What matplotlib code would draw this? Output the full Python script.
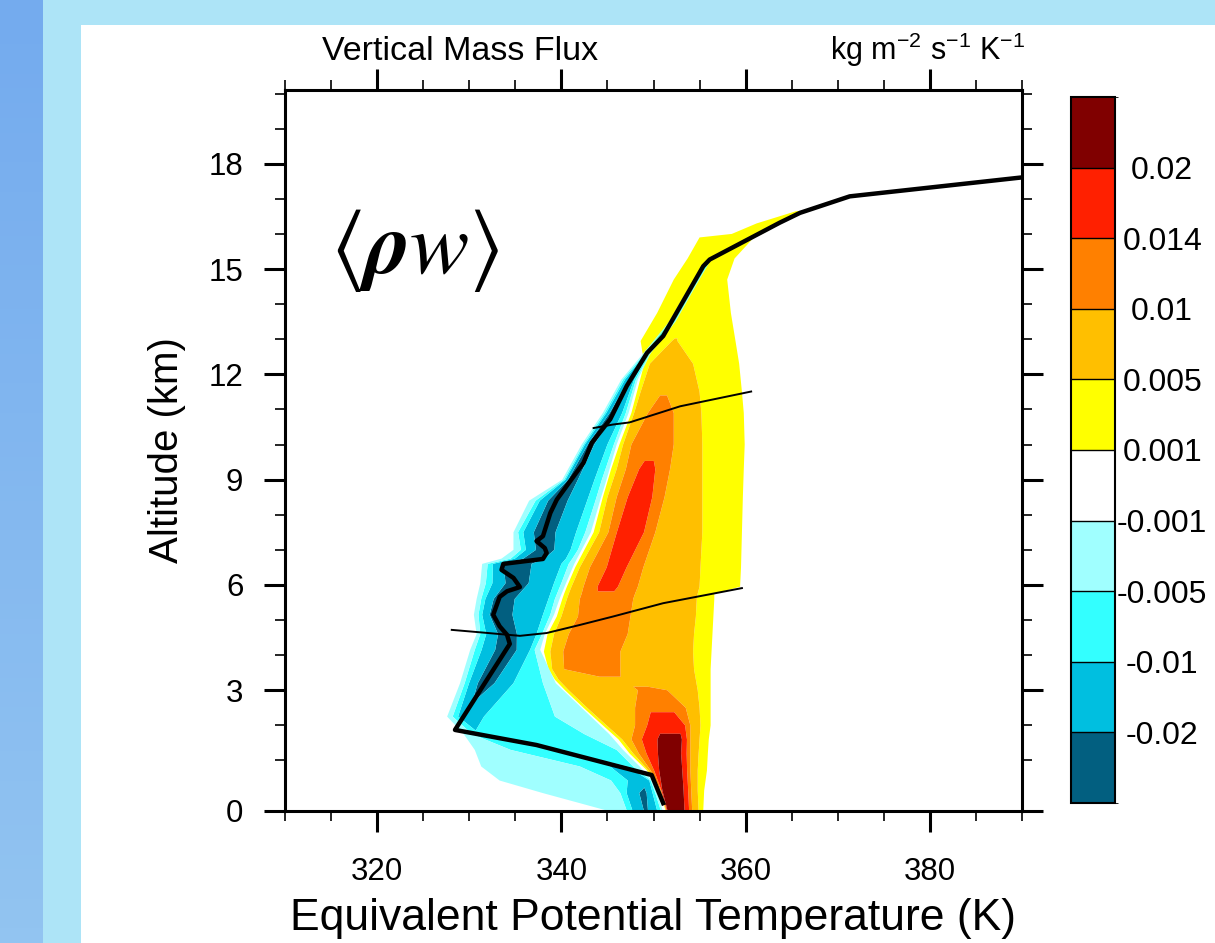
import numpy as np
import matplotlib
matplotlib.use("Agg")
import matplotlib.pyplot as plt
from matplotlib.colors import ListedColormap, BoundaryNorm, LinearSegmentedColormap
from matplotlib.cm import ScalarMappable
from matplotlib.patches import Rectangle
from matplotlib.ticker import MultipleLocator

plt.rcParams['font.family'] = ['Liberation Sans', 'DejaVu Sans']

# contour intervals of the mass flux (kg m-2 s-1 K-1) and their fill colours
flux_levels = [-0.02, -0.01, -0.005, -0.001, 0.001, 0.005, 0.01, 0.014, 0.02]
flux_labels = ['-0.02', '-0.01', '-0.005', '-0.001', '0.001', '0.005', '0.01', '0.014', '0.02']
flux_colors = ['#025f80', '#00bfe0', '#33ffff', '#a0ffff', '#ffffff',
               '#ffff00', '#ffbf00', '#ff8000', '#ff2000', '#800000']

# upward flux: per altitude, theta_e of the band edges
# knots: zero line, yellow/orange-yellow, to orange, core left, core right,
#        back to orange-yellow, back to yellow, outer edge
pos_z = [0.0, 0.4, 0.8, 1.2, 1.6, 2.0, 2.5, 3.0, 3.3, 3.6, 4.1, 4.6, 5.1, 5.6,
         5.75, 5.95, 6.5, 7.5, 8.5, 9.3, 10.0, 10.9, 11.5, 12.3, 12.95, 13.75,
         14.7, 15.3, 15.9, 16.0, 16.3, 16.65]
pos_theta = [
    [351.3, 351.35, 351.4, 351.55, 353.2, 354.2, 354.9, 355.4],
    [350.7, 350.75, 350.8, 351.0, 353.1, 354.1, 354.8, 355.5],
    [349.3, 349.45, 349.7, 350.8, 352.95, 354.0, 354.8, 355.8],
    [347.4, 347.8, 348.4, 350.9, 352.8, 354.0, 354.9, 355.9],
    [346.2, 346.6, 347.6, 351.0, 352.9, 354.0, 355.0, 356.0],
    [344.5, 344.9, 348.0, 350.3, 353.0, 354.0, 355.1, 356.2],
    [342.4, 342.8, 348.0, 349.5, 352.0, 353.5, 355.0, 356.2],
    [340.4, 340.8, 348.3, 349.2, 350.6, 351.5, 354.8, 356.2],
    [339.3, 339.7, 343.0, 345.0, 347.0, 350.0, 354.6, 356.2],
    [338.6, 339.0, 340.3, 342.0, 345.0, 346.4, 354.4, 356.2],
    [338.1, 338.8, 340.2, 341.5, 345.0, 346.4, 354.3, 356.3],
    [338.5, 339.2, 340.8, 342.5, 346.0, 347.2, 354.4, 356.4],
    [339.5, 340.0, 341.8, 343.5, 346.0, 347.5, 354.6, 356.5],
    [340.1, 340.6, 342.0, 343.5, 346.5, 347.8, 354.7, 356.6],
    [340.3, 340.8, 342.2, 343.8, 345.8, 348.0, 354.8, 356.6],
    [340.6, 341.1, 342.4, 344.3, 345.6, 348.3, 355.0, 359.4],
    [341.5, 342.0, 343.1, 345.6, 346.4, 348.9, 355.1, 359.5],
    [343.5, 344.1, 345.1, 346.6, 348.2, 350.2, 355.3, 359.6],
    [344.5, 345.0, 346.0, 347.8, 349.2, 351.2, 355.3, 359.7],
    [345.4, 346.0, 347.0, 348.8, 349.8, 351.8, 355.3, 359.8],
    [346.3, 346.7, 347.6, 349.5, 350.5, 352.2, 355.3, 359.9],
    [347.6, 347.9, 349.4, 350.3, 351.3, 352.2, 355.2, 359.8],
    [348.2, 348.6, 350.0, 350.8, 351.5, 352.5, 355.0, 359.6],
    [349.0, 349.6, 350.5, 351.2, 352.2, 353.0, 354.3, 359.3],
    [348.6, 351.5, 352.0, 352.2, 352.4, 352.6, 353.2, 358.9],
    [350.4, 351.5, 352.5, 353.5, 354.5, 355.5, 356.5, 358.4],
    [352.2, 353.0, 354.0, 355.0, 355.7, 356.4, 357.2, 358.0],
    [353.7, 354.4, 355.1, 355.8, 356.5, 357.2, 358.0, 358.8],
    [355.0, 355.8, 356.6, 357.4, 358.2, 359.0, 360.0, 360.9],
    [358.5, 359.0, 359.5, 360.0, 360.5, 361.0, 361.4, 361.8],
    [361.2, 361.5, 361.9, 362.3, 362.7, 363.1, 363.5, 363.9],
    [365.5, 365.6, 365.7, 365.8, 365.9, 366.0, 366.1, 366.2],
]
pos_outer = [0.005] * 24 + [0.0045] + [0.003] * 7
pos_shoulder = [0.01] * 8 + [0.0085] + [0.01] * 13 + [0.0095, 0.008, 0.005] + [0.003] * 7
pos_peak = [0.022, 0.022, 0.022, 0.022, 0.022, 0.017, 0.013, 0.0105, 0.009,
            0.0125, 0.013, 0.013, 0.0135, 0.0135, 0.0135, 0.015, 0.0155,
            0.0165, 0.016, 0.015, 0.012, 0.011, 0.0098, 0.0085, 0.0052] + [0.003] * 7

# downward flux: outer edge, lc/cyan, minimum, blue/cyan, cyan/lc, zero line
neg_z = [0.0, 0.35, 0.6, 0.88, 1.3, 1.75, 2.25, 3.2, 4.15, 4.6, 5.15, 5.6,
         6.05, 6.6, 6.75, 7.0, 7.5, 8.4, 9.0, 10.0, 10.9, 11.85, 12.6, 13.5,
         14.5, 15.2]
neg_theta = [
    [345.0, 347.1, 349.2, 350.4, 350.8, 351.0],
    [338.0, 346.4, 349.0, 349.9, 350.2, 350.4],
    [333.3, 345.4, 349.0, 349.55, 349.7, 349.85],
    [331.3, 342.0, 346.6, 347.2, 347.8, 348.5],
    [330.6, 334.5, 339.6, 343.0, 346.0, 346.7],
    [329.4, 330.3, 331.0, 337.0, 342.5, 345.2],
    [327.6, 328.2, 329.5, 331.6, 339.3, 343.2],
    [329.0, 329.5, 331.5, 334.8, 338.0, 339.4],
    [330.1, 330.6, 334.0, 336.6, 337.1, 337.7],
    [330.8, 331.2, 333.9, 337.3, 337.9, 338.2],
    [330.5, 331.0, 332.7, 338.0, 338.8, 339.2],
    [330.8, 331.3, 333.1, 338.6, 339.3, 339.8],
    [331.2, 331.8, 334.8, 339.2, 340.0, 340.5],
    [331.4, 332.0, 334.5, 340.0, 340.8, 341.4],
    [333.5, 334.5, 336.5, 340.5, 341.2, 341.7],
    [334.8, 335.6, 338.0, 341.0, 341.8, 342.2],
    [334.8, 335.3, 337.8, 341.6, 342.6, 343.2],
    [336.5, 337.2, 339.2, 342.8, 343.7, 344.2],
    [340.1, 340.3, 340.9, 343.6, 344.4, 344.9],
    [342.2, 342.4, 343.0, 345.0, 345.7, 346.0],
    [344.5, 344.7, 345.4, 346.6, 347.0, 347.3],
    [346.5, 346.7, 347.4, 347.9, 348.1, 348.3],
    [348.9, 349.05, 349.3, 349.5, 349.6, 349.7],
    [351.7, 351.8, 351.95, 352.15, 352.3, 352.4],
    [353.9, 354.0, 354.1, 354.3, 354.45, 354.55],
    [355.7, 355.75, 355.85, 355.95, 356.05, 356.1],
]
neg_min = [-0.022, -0.024, -0.015, -0.012, -0.0085, -0.0085, -0.016, -0.026,
           -0.028, -0.026, -0.026, -0.025, -0.026, -0.027, -0.027, -0.027,
           -0.027, -0.027, -0.025, -0.024, -0.024, -0.022, -0.016, -0.012,
           -0.012, -0.01]
neg_side = [-0.01, -0.01, -0.01, -0.01, -0.008, -0.008] + [-0.01] * 17 + [-0.008] * 3

# domain-mean profile (thick) and the two thin reference curves
mean_theta = [351.05, 349.8, 337.3, 328.45, 334.4, 334.1, 333.3, 332.6, 333.0,
              333.3, 334.1, 335.5, 334.8, 333.5, 333.7, 338.0, 338.4, 338.2,
              337.3, 338.0, 338.4, 338.8, 339.5, 342.4, 343.3, 345.3, 347.1,
              349.3, 351.05, 355.4, 356.1, 363.7, 365.9, 371.3, 390.0]
mean_z = [0.15, 0.71, 1.44, 1.87, 4.32, 4.58, 4.82, 5.15, 5.44, 5.66, 5.82,
          5.94, 6.2, 6.43, 6.6, 6.74, 6.91, 7.05, 7.25, 7.39, 7.72, 8.05, 8.43,
          9.48, 10.05, 10.72, 11.67, 12.61, 13.09, 15.08, 15.27, 16.32, 16.6,
          17.07, 17.61]
low_theta = [328.1, 331.2, 335.5, 338.4, 342.0, 345.6, 351.05, 359.6]
low_z = [4.72, 4.65, 4.55, 4.63, 4.86, 5.10, 5.48, 5.91]
high_theta = [343.5, 345.6, 347.4, 352.9, 360.6]
high_z = [10.47, 10.57, 10.63, 11.09, 11.51]

W, H = 1215, 943
fig = plt.figure(figsize=(W / 100, H / 100), dpi=100)

# slide background
bg = fig.add_axes([0, 0, 1, 1], zorder=-10)
bg.imshow(np.linspace(0, 1, 64)[:, None], extent=[0, 43, H, 0], aspect='auto',
          cmap=LinearSegmentedColormap.from_list('strip', ['#74abee', '#92c4f1']))
bg.add_patch(Rectangle((43, 0), W - 43, 25, color='#ade4f7', lw=0))
bg.add_patch(Rectangle((43, 0), 38, H, color='#ade4f7', lw=0))
bg.set_xlim(0, W)
bg.set_ylim(H, 0)
bg.axis('off')

ax = fig.add_axes([285 / W, 1 - 810.7 / H, (1022 - 285) / W, (810.7 - 90) / H])

# the lowest kilometre is drawn stretched
stretch = 50.2 / 35.07


def fwd(z):
    z = np.asarray(z, dtype=float)
    return np.where(z < 1, 1 - (1 - z) * stretch, z)


def inv(u):
    u = np.asarray(u, dtype=float)
    return np.where(u < 1, 1 - (1 - u) / stretch, u)


ax.set_yscale('function', functions=(fwd, inv))

bounds = [-1.0] + flux_levels + [1.0]

pt = np.array(pos_theta)
pz = np.repeat(np.array(pos_z)[:, None], pt.shape[1], axis=1)
pv = np.array([[0.0015, a, b, p, p, b, a, 0.0015]
               for a, b, p in zip(pos_outer, pos_shoulder, pos_peak)])
ax.contourf(pt, pz, pv, levels=bounds, colors=flux_colors, antialiased=True)

nt = np.array(neg_theta)
nz = np.repeat(np.array(neg_z)[:, None], nt.shape[1], axis=1)
nv = np.array([[-0.002, -0.005, m, s, -0.005, -0.002]
               for m, s in zip(neg_min, neg_side)])
ax.contourf(nt, nz, nv, levels=bounds, colors=flux_colors, antialiased=True)

ax.plot(mean_theta, mean_z, color='k', lw=3.2, solid_joinstyle='round', zorder=5)
ax.plot(low_theta, low_z, color='k', lw=1.4, zorder=5)
ax.plot(high_theta, high_z, color='k', lw=1.4, zorder=5)

ax.set_xlim(310, 390)
ax.set_ylim(0, 20.1)
ax.set_xticks([320, 340, 360, 380])
ax.xaxis.set_minor_locator(MultipleLocator(5))
ax.set_yticks(range(0, 19, 3))
ax.yaxis.set_minor_locator(MultipleLocator(1))
ax.tick_params(which='both', direction='out', top=True, right=True, labelsize=22.5)
ax.tick_params(which='major', length=15, width=2.2, pad=15)
ax.tick_params(axis='x', which='major', pad=18)
ax.tick_params(which='minor', length=7.5, width=1.2)
for s in ax.spines.values():
    s.set_linewidth(2.2)

ax.set_xlabel('Equivalent Potential Temperature (K)', fontsize=32, labelpad=8)
ax.set_ylabel('Altitude (km)', fontsize=29, labelpad=16)

fig.text(322 / W, 1 - 60 / H, 'Vertical Mass Flux', fontsize=24.5, ha='left', va='baseline')
fig.text(1025 / W, 1 - 60 / H,
         r'kg m$\mathregular{^{-2}}$ s$\mathregular{^{-1}}$ K$\mathregular{^{-1}}$',
         fontsize=22, ha='right', va='baseline')
fig.text(330 / W, 1 - 250 / H, r'$\langle\mathbfit{\rho}w\rangle$', fontsize=64,
         math_fontfamily='stix', ha='left', va='center')

# colour bar with equal boxes
cax = fig.add_axes([1071 / W, 1 - 803 / H, 44 / W, 706 / H])
cb_bounds = [-0.03] + flux_levels + [0.03]
sm = ScalarMappable(norm=BoundaryNorm(cb_bounds, len(flux_colors)),
                    cmap=ListedColormap(flux_colors))
cb = fig.colorbar(sm, cax=cax, ticks=flux_levels, spacing='uniform', drawedges=True)
cb.ax.set_yticklabels(flux_labels)
cb.ax.tick_params(length=0, labelsize=23, pad=34)
for t in cb.ax.get_yticklabels():
    t.set_ha('center')
cb.outline.set_linewidth(1.5)
cb.dividers.set_linewidth(1.0)

fig.savefig('out.png', dpi=100)
